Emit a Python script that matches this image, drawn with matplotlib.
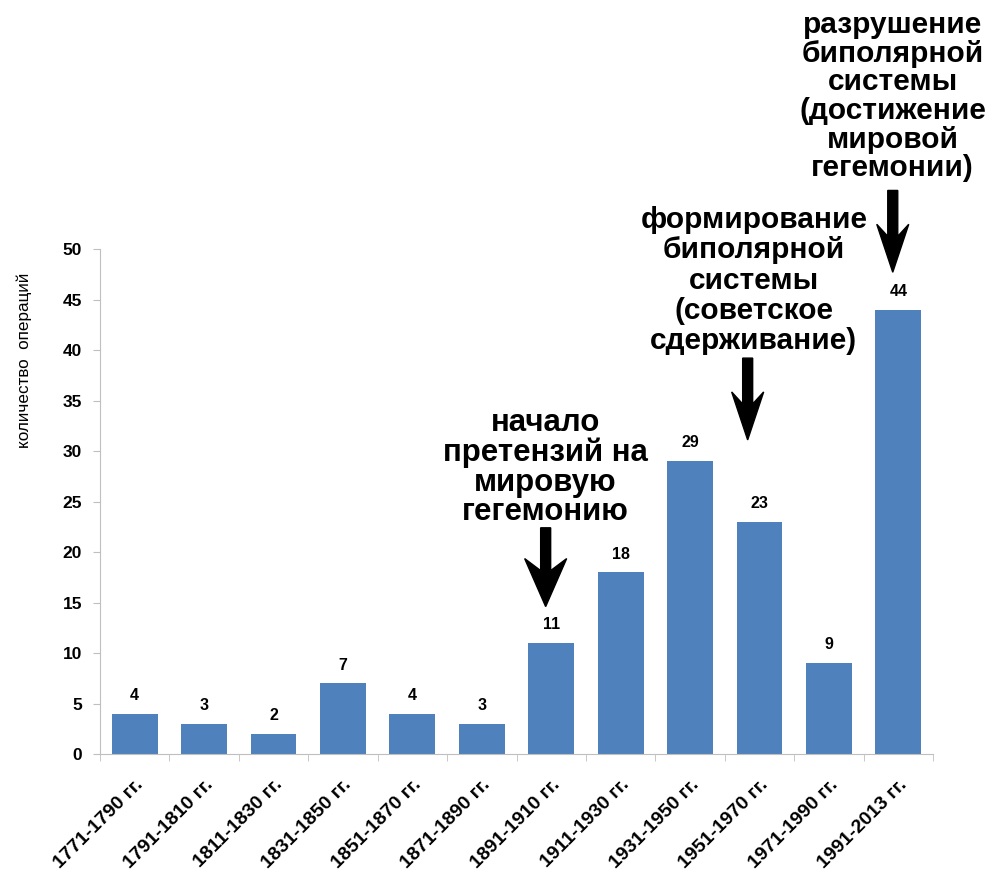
import numpy as np
import matplotlib.pyplot as plt
from matplotlib.patches import Polygon

plt.rcParams['font.family'] = ['Liberation Sans', 'DejaVu Sans']

periods = ['1771-1790 гг.', '1791-1810 гг.', '1811-1830 гг.', '1831-1850 гг.',
           '1851-1870 гг.', '1871-1890 гг.', '1891-1910 гг.', '1911-1930 гг.',
           '1931-1950 гг.', '1951-1970 гг.', '1971-1990 гг.', '1991-2013 гг.']
operations = [4, 3, 2, 7, 4, 3, 11, 18, 29, 23, 9, 44]

# annotation texts and where their arrows point (category index, top, tip)
note_texts = ['начало\nпретензий на\nмировую\nгегемонию',
              'формирование\nбиполярной\nсистемы\n(советское\nсдерживание)',
              'разрушение\nбиполярной\nсистемы\n(достижение\nмировой\nгегемонии)']
arrow_x = [5.92, 8.83, 10.92]
arrow_top = [22.4, 39.2, 55.8]
arrow_tip = [14.6, 31.1, 47.7]
text_x = [5.92, 8.92, 10.92]
text_y = [22.45, 39.5, 56.6]
text_size = [22.5, 21.5, 21.5]
text_spacing = [0.98, 1.1, 1.03]
head_w = [42, 32, 32]

fig = plt.figure(figsize=(9.95, 8.84), dpi=100)
ax = fig.add_axes([0.1005, 0.147, 0.8372, 0.5713])

x = np.arange(len(periods))
ax.bar(x, operations, width=0.66, color='#4F81BD')
for xi, v in zip(x, operations):
    ax.text(xi, v + 1.8, str(v), ha='center', va='center', fontsize=11.5, fontweight='bold')

ax.set_xlim(-0.5, len(periods) - 0.5)
ax.set_ylim(0, 50)
ax.set_yticks(np.arange(0, 51, 5))
ax.set_xticks(x)
ax.set_xticklabels(periods, rotation=45, ha='right', rotation_mode='anchor',
                   fontsize=14, fontweight='bold')
ax.set_xticks(np.arange(-0.5, len(periods)), minor=True)
ax.tick_params(axis='x', which='major', length=0, pad=16)
ax.tick_params(axis='x', which='minor', length=5, color='#bfbfbf')
ax.tick_params(axis='y', length=5, color='#bfbfbf', labelsize=12.5, pad=8)
for lab in ax.get_yticklabels():
    lab.set_fontweight('bold')

for side in ['top', 'right']:
    ax.spines[side].set_visible(False)
for side in ['left', 'bottom']:
    ax.spines[side].set_color('#bfbfbf')

ax.set_ylabel('количество  операций', fontsize=12.3)
ax.yaxis.set_label_coords(-0.082, 0.78)

# arrows with swept-back heads, drawn in pixels from data positions
for i in range(len(note_texts)):
    (px, ptop), (_, ptip) = ax.transData.transform([(arrow_x[i], arrow_top[i]),
                                                    (arrow_x[i], arrow_tip[i])])
    length = ptop - ptip
    hw, hl, sw = head_w[i] / 2, 48, 5
    pts = [(0, 0), (hw, hl), (sw, hl - 12), (sw, length),
           (-sw, length), (-sw, hl - 12), (-hw, hl)]
    pts = [((px + dx) / fig.dpi, (ptip + dy) / fig.dpi) for dx, dy in pts]
    fig.patches.append(Polygon(pts, closed=True, facecolor='black', edgecolor='black',
                               transform=fig.dpi_scale_trans, figure=fig))
    ax.text(text_x[i], text_y[i], note_texts[i], ha='center', va='bottom',
            fontsize=text_size[i], fontweight='bold', linespacing=text_spacing[i],
            clip_on=False)

fig.savefig('out.png', dpi=100)
